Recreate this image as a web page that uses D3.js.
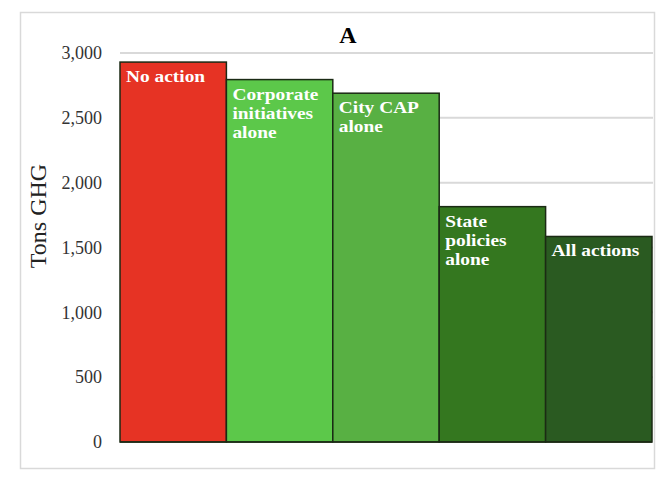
<!DOCTYPE html>
<html>
<head>
<meta charset="utf-8">
<script src="https://cdn.jsdelivr.net/npm/d3@7"></script>
<style>
  body { margin: 0; background: #fff; }
</style>
</head>
<body>
<div id="chart"></div>
<script>
// data
const scenarios = ["No action", "Corporate initiatives alone", "City CAP alone", "State policies alone", "All actions"];
const label_lines = [["No action"], ["Corporate", "initiatives", "alone"], ["City CAP", "alone"], ["State", "policies", "alone"], ["All actions"]];
const tons = [2930, 2795, 2690, 1815, 1585];
const y_ticks = [0, 500, 1000, 1500, 2000, 2500, 3000];
const bar_colors = ["#e63324", "#5cc84a", "#58b043", "#34771f", "#2a5a21"];

const W = 664, H = 484;
const margin = {top: 53, right: 12, bottom: 42, left: 120};
const width = W - margin.left - margin.right,
      height = H - margin.top - margin.bottom;

const svg = d3.select("#chart").append("svg")
    .attr("width", W)
    .attr("height", H);

// outer frame
svg.append("rect")
    .attr("x", 20.5).attr("y", 12.5)
    .attr("width", 634).attr("height", 456)
    .attr("fill", "none")
    .attr("stroke", "#d9d9d9")
    .attr("stroke-width", 1.5);

const g = svg.append("g")
    .attr("transform", `translate(${margin.left}, ${margin.top})`);

const x = d3.scaleBand()
    .domain(scenarios)
    .range([0, width])
    .padding(0);

const y = d3.scaleLinear()
    .domain([0, 3000])
    .range([height, 0]);

// gridlines
g.selectAll("line.grid")
    .data(y_ticks.filter(t => t > 0))
    .join("line")
    .attr("class", "grid")
    .attr("x1", 0).attr("x2", width + 1)
    .attr("y1", d => y(d)).attr("y2", d => y(d))
    .attr("stroke", "#d9d9d9")
    .attr("stroke-width", 2);

// y axis labels
const yAxis = g.append("g")
    .call(d3.axisLeft(y).tickValues(y_ticks).tickFormat(d3.format(",")).tickSize(0).tickPadding(18));
yAxis.select(".domain").remove();
yAxis.selectAll("text")
    .style("font-family", "'Liberation Serif', 'Times New Roman', serif")
    .style("font-size", "18px")
    .attr("fill", "#333");

// bars
const bars = g.selectAll("g.bar")
    .data(scenarios)
    .join("g")
    .attr("class", "bar");

bars.append("rect")
    .attr("x", d => x(d))
    .attr("y", (d, i) => y(tons[i]))
    .attr("width", x.bandwidth())
    .attr("height", (d, i) => height - y(tons[i]))
    .attr("fill", (d, i) => bar_colors[i])
    .attr("stroke", "#1b2a14")
    .attr("stroke-width", 1.5);

// labels inside bars, slightly stretched like the original
bars.append("text")
    .attr("transform", (d, i) => `translate(${x(d) + 6}, ${y(tons[i]) + 20}) scale(1.14, 1)`)
    .attr("fill", "#fff")
    .style("font-family", "'Liberation Serif', 'Times New Roman', serif")
    .style("font-weight", "bold")
    .style("font-size", "17px")
    .selectAll("tspan")
    .data((d, i) => label_lines[i])
    .join("tspan")
    .attr("x", 0)
    .attr("dy", (d, j) => j === 0 ? 0 : 19)
    .text(d => d);

// baseline
g.append("line")
    .attr("x1", 0).attr("x2", width)
    .attr("y1", height).attr("y2", height)
    .attr("stroke", "#1b2a14")
    .attr("stroke-width", 1.5);

// title
svg.append("text")
    .attr("x", 348)
    .attr("y", 43)
    .attr("text-anchor", "middle")
    .style("font-family", "'Liberation Serif', 'Times New Roman', serif")
    .style("font-weight", "bold")
    .style("font-size", "24px")
    .text("A");

// y axis title
svg.append("text")
    .attr("transform", "translate(46, 216) rotate(-90)")
    .attr("text-anchor", "middle")
    .style("font-family", "'Liberation Serif', 'Times New Roman', serif")
    .style("font-size", "24px")
    .attr("fill", "#222")
    .text("Tons GHG");
</script>
</body>
</html>
